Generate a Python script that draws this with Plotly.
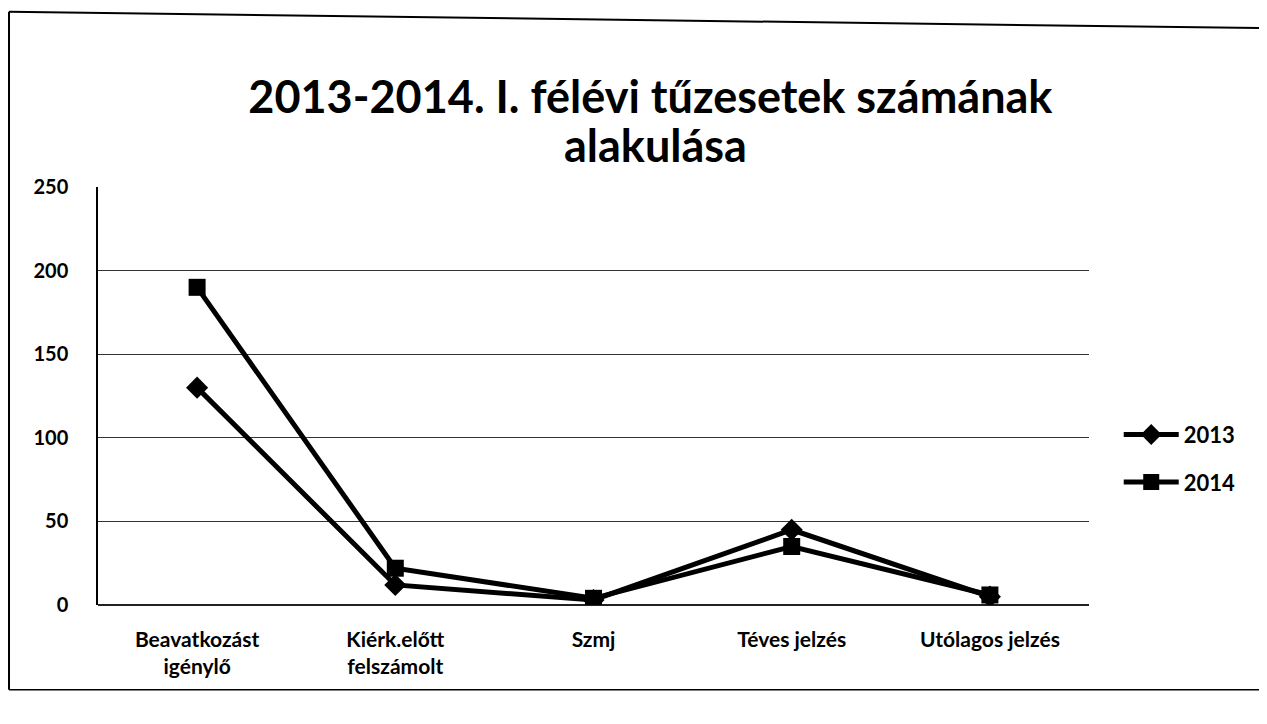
import plotly.graph_objects as go

categories = ["Beavatkozást<br>igénylő", "Kiérk.előtt<br>felszámolt", "Szmj", "Téves jelzés", "Utólagos jelzés"]
series_2013 = [130, 12, 3, 45, 5]
series_2014 = [190, 22, 4, 35, 6]
y_ticks = [0, 50, 100, 150, 200, 250]

FONT = "Lato"

fig = go.Figure()
fig.add_trace(go.Scatter(
    x=categories, y=series_2013, name="2013", mode="lines+markers", legendgroup="a",
    line=dict(color="black", width=5),
    marker=dict(symbol="diamond", size=17, color="black"),
))
fig.add_trace(go.Scatter(
    x=categories, y=series_2014, name="2014", mode="lines+markers", legendgroup="b",
    line=dict(color="black", width=5),
    marker=dict(symbol="square", size=17, color="black"),
))

fig.update_layout(
    width=1267, height=724,
    paper_bgcolor="white", plot_bgcolor="white",
    margin=dict(l=90, r=186, t=179, b=127),
    title=dict(
        text="2013-2014. I. félévi tűzesetek számának",
        x=0.507, xanchor="center", xref="container", y=0.877, yanchor="middle",
        font=dict(family=FONT, size=45, color="black", weight="bold"),
    ),
    font=dict(family=FONT, color="black"),
    legend=dict(
        x=1.03, xanchor="left", y=0.35, yanchor="middle",
        font=dict(family=FONT, size=22, color="black", weight="bold"),
        itemwidth=55, tracegroupgap=16, traceorder="grouped", bgcolor="rgba(0,0,0,0)",
    ),
    showlegend=True,
)
fig.add_annotation(
    text="alakulása", xref="paper", yref="paper", x=0.563, y=1.10,
    xanchor="center", yanchor="middle", showarrow=False,
    font=dict(family=FONT, size=45, color="black", weight="bold"),
)
fig.update_xaxes(
    range=[-0.5, 4.5],
    showgrid=False, showline=False, zeroline=False,
    tickfont=dict(family=FONT, size=21, color="black", weight="bold"),
    ticklabelstandoff=20,
)
fig.update_yaxes(
    range=[0, 250], tickvals=y_ticks,
    showgrid=True, gridcolor="#333", gridwidth=1,
    zeroline=True, zerolinecolor="#222", zerolinewidth=1.5,
    showline=True, linecolor="black", linewidth=1.5,
    tickfont=dict(family=FONT, size=20, color="black", weight="bold"),
    ticklabelstandoff=24,
)

# scanned chart frame
fig.add_shape(type="line", xref="paper", yref="paper", x0=-0.0898, x1=1.18, y0=1.419, y1=1.38,
              line=dict(color="black", width=2))
fig.add_shape(type="line", xref="paper", yref="paper", x0=-0.0898, x1=-0.0898, y0=1.419, y1=-0.203,
              line=dict(color="black", width=2))
fig.add_shape(type="line", xref="paper", yref="paper", x0=-0.0898, x1=1.18, y0=-0.203, y1=-0.203,
              line=dict(color="black", width=1.5))

fig.write_html("out.html")
